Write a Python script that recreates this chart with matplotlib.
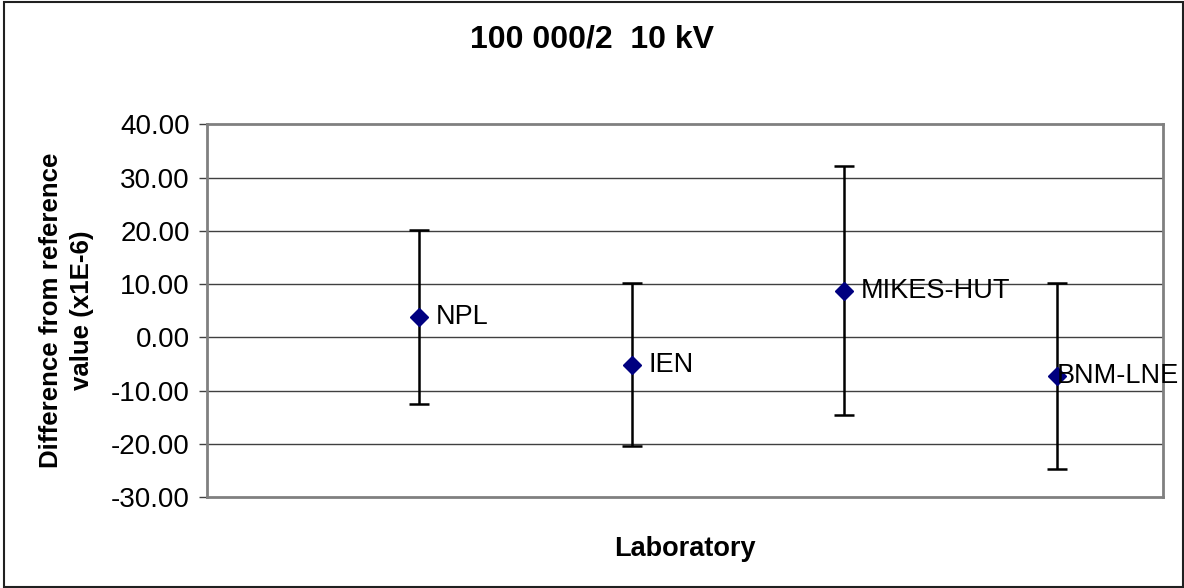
import numpy as np
import matplotlib.pyplot as plt
from matplotlib.patches import Rectangle

#%% data
labs = ["NPL", "IEN", "MIKES-HUT", "BNM-LNE"]
lab_x = [1, 2, 3, 4]
diff = [3.72, -5.24, 8.72, -7.26]
err_hi = [20.13, 10.11, 32.22, 10.23]
err_lo = [-12.58, -20.41, -14.59, -24.66]

y_ticks = [-30, -20, -10, 0, 10, 20, 30, 40]

plt.rcParams['font.family'] = ['Liberation Sans', 'DejaVu Sans']

#%% figure
fig = plt.figure(figsize=(11.84, 5.88), dpi=100)
ax = fig.add_axes([207/1184, 1 - 497/588, (1163 - 207)/1184, (497 - 124.3)/588])

diff = np.array(diff)
yerr = np.vstack([diff - np.array(err_lo), np.array(err_hi) - diff])

ax.errorbar(lab_x, diff, yerr=yerr, fmt='none', ecolor='black',
            elinewidth=1.8, capsize=7.5, capthick=1.8, zorder=3)
ax.plot(lab_x, diff, linestyle='none', marker='D', markersize=9,
        color='#000080', zorder=4)

# labels to the right of the points (last one pushed back inside)
for i, name in enumerate(labs):
    dx = 12 if i < len(labs) - 1 else 0
    ax.annotate(name, (lab_x[i], diff[i]), xytext=(dx, 0),
                textcoords='offset points', va='center', ha='left',
                fontsize=19.5, annotation_clip=False, zorder=5)

ax.set_xlim(0, 4.5)
ax.set_ylim(-30, 40)
ax.set_yticks(y_ticks)
ax.set_yticklabels([f"{v:.2f}" for v in y_ticks], fontsize=20)
ax.set_xticks([])
ax.tick_params(axis='y', direction='out', length=6, width=1, color='#404040', pad=6.5)

for v in y_ticks[1:-1]:
    ax.axhline(v, color='#404040', linewidth=1, zorder=1)

for s in ax.spines.values():
    s.set_color('#808080')
    s.set_linewidth(2)

ax.set_ylabel("Difference from reference\nvalue (x1E-6)", fontsize=18.6,
              fontweight='bold', labelpad=12, linespacing=1.35)
ax.set_xlabel("Laboratory", fontsize=19.5, fontweight='bold', labelpad=28)

fig.text(0.5, 1 - 40/588, "100 000/2  10 kV", ha='center', va='center',
         fontsize=23, fontweight='bold')

# outer chart frame
fig.add_artist(Rectangle((4/1184, 1.5/588), 1178.5/1184, 585/588,
                         transform=fig.transFigure, fill=False,
                         edgecolor='#202020', linewidth=1.5))

fig.savefig("out.png", dpi=100)
